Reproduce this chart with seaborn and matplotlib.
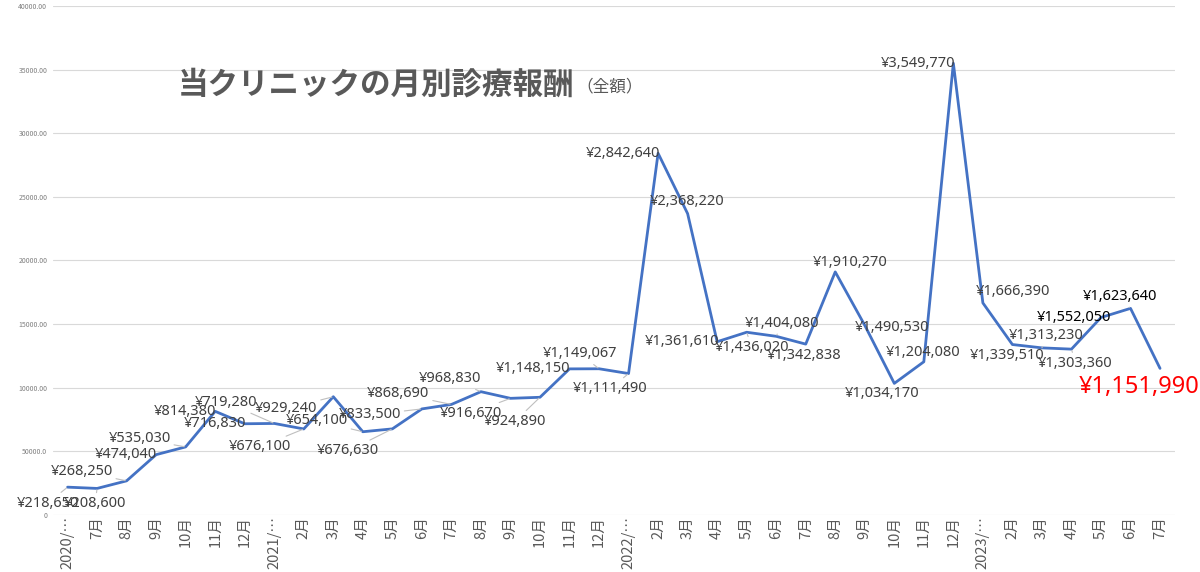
import pandas as pd
import matplotlib
matplotlib.use("Agg")
import matplotlib.pyplot as plt
import seaborn as sns

# 月別の診療報酬（全額）
months = ["2020/…", "7月", "8月", "9月", "10月", "11月", "12月",
          "2021/…", "2月", "3月", "4月", "5月", "6月", "7月", "8月", "9月", "10月", "11月", "12月",
          "2022/…", "2月", "3月", "4月", "5月", "6月", "7月", "8月", "9月", "10月", "11月", "12月",
          "2023/…", "2月", "3月", "4月", "5月", "6月", "7月"]
amounts = [218650, 208600, 268250, 474040, 535030, 814380, 716830,
           719280, 676100, 929240, 654100, 676630, 833500, 868690, 968830, 916670, 924890, 1148150, 1149067,
           1111490, 2842640, 2368220, 1361610, 1436020, 1404080, 1342838, 1910270, 1490530, 1034170, 1204080, 3549770,
           1666390, 1339510, 1313230, 1303360, 1552050, 1623640, 1151990]
ytick_vals = [0, 500000, 1000000, 1500000, 2000000, 2500000, 3000000, 3500000, 4000000]
ytick_labels = ["0", "50000.0", "10000.00", "15000.00", "20000.00", "25000.00", "30000.00", "35000.00", "40000.00"]

# ラベル位置（点からのずれ, px）と引き出し線の有無
label_dx = [-20, -2, -45, -30, -46, -30, -30, -48, -44, -47, -46, -44, -52, -53, -31, -40, -25, -36, -19,
            -18, -35, 0, -35, 5, 6, -2, 15, 27, -12, -1, -35, 30, -5, 4, 4, -27, -10, -21]
label_dy = [-16, -15, 9, 0, 8, 0, 0, 21, -18, -12, 11, -22, -6, 11, 13, -15, -24, 0, 15,
            -15, 0, 12, 0, -15, 13, -11, 9, -2, -10, 9, 0, 11, -11, 12, -14, 0, 12, -19]
leader = [1, 1, 1, 0, 1, 0, 0, 1, 1, 1, 1, 1, 1, 1, 1, 1, 1, 0, 1,
          1, 0, 0, 0, 1, 1, 0, 0, 0, 0, 0, 0, 0, 0, 1, 1, 0, 1, 0]

df = pd.DataFrame({"idx": range(len(amounts)), "amount": amounts})

sns.set_style("white")
plt.rcParams["font.family"] = ["Noto Sans CJK JP", "DejaVu Sans"]

fig = plt.figure(figsize=(12, 5.72), dpi=100)
ax = fig.add_axes([0.044, 0.0997, 0.935, 0.8898])

sns.lineplot(data=df, x="idx", y="amount", color="#4472C4", linewidth=2, ax=ax)

ax.set_xlim(-0.5, len(amounts) - 0.5)
ax.set_ylim(0, 4000000)
ax.set_yticks(ytick_vals)
ax.set_yticklabels(ytick_labels, fontsize=5, color="#7f7f7f")
ax.set_xticks(range(len(months)))
ax.set_xticklabels(months, rotation=90, fontsize=10.5, color="#595959")
ax.tick_params(axis="x", length=0, pad=1)
ax.tick_params(axis="y", length=0, pad=4)
ax.set_xlabel("")
ax.set_ylabel("")
ax.grid(axis="y", color="#d9d9d9", linewidth=0.8)
ax.set_axisbelow(True)
for s in ax.spines.values():
    s.set_visible(False)

for i, v in enumerate(amounts):
    txt = "¥{:,}".format(v)
    color = "#404040"
    size = 10.5
    if i in (35, 36):
        color = "black"
    if i == len(amounts) - 1:
        color = "#ff0000"
        size = 17
    arrow = None
    if leader[i]:
        arrow = dict(arrowstyle="-", color="#bfbfbf", lw=0.8, shrinkA=0, shrinkB=1)
    ax.annotate(txt, xy=(i, v), xytext=(label_dx[i], label_dy[i]), textcoords="offset pixels",
                ha="center", va="center", fontsize=size, color=color, arrowprops=arrow,
                family=["Noto Sans", "Noto Sans CJK JP"], annotation_clip=False)

fig.text(178 / 1200, 1 - 85 / 572, "当クリニックの月別診療報酬", fontsize=22, fontweight="bold",
         color="#595959", ha="left", va="center")
fig.text(576 / 1200, 1 - 87 / 572, "（全額）", fontsize=12, color="#595959", ha="left", va="center")

fig.savefig("out.png", dpi=100)
